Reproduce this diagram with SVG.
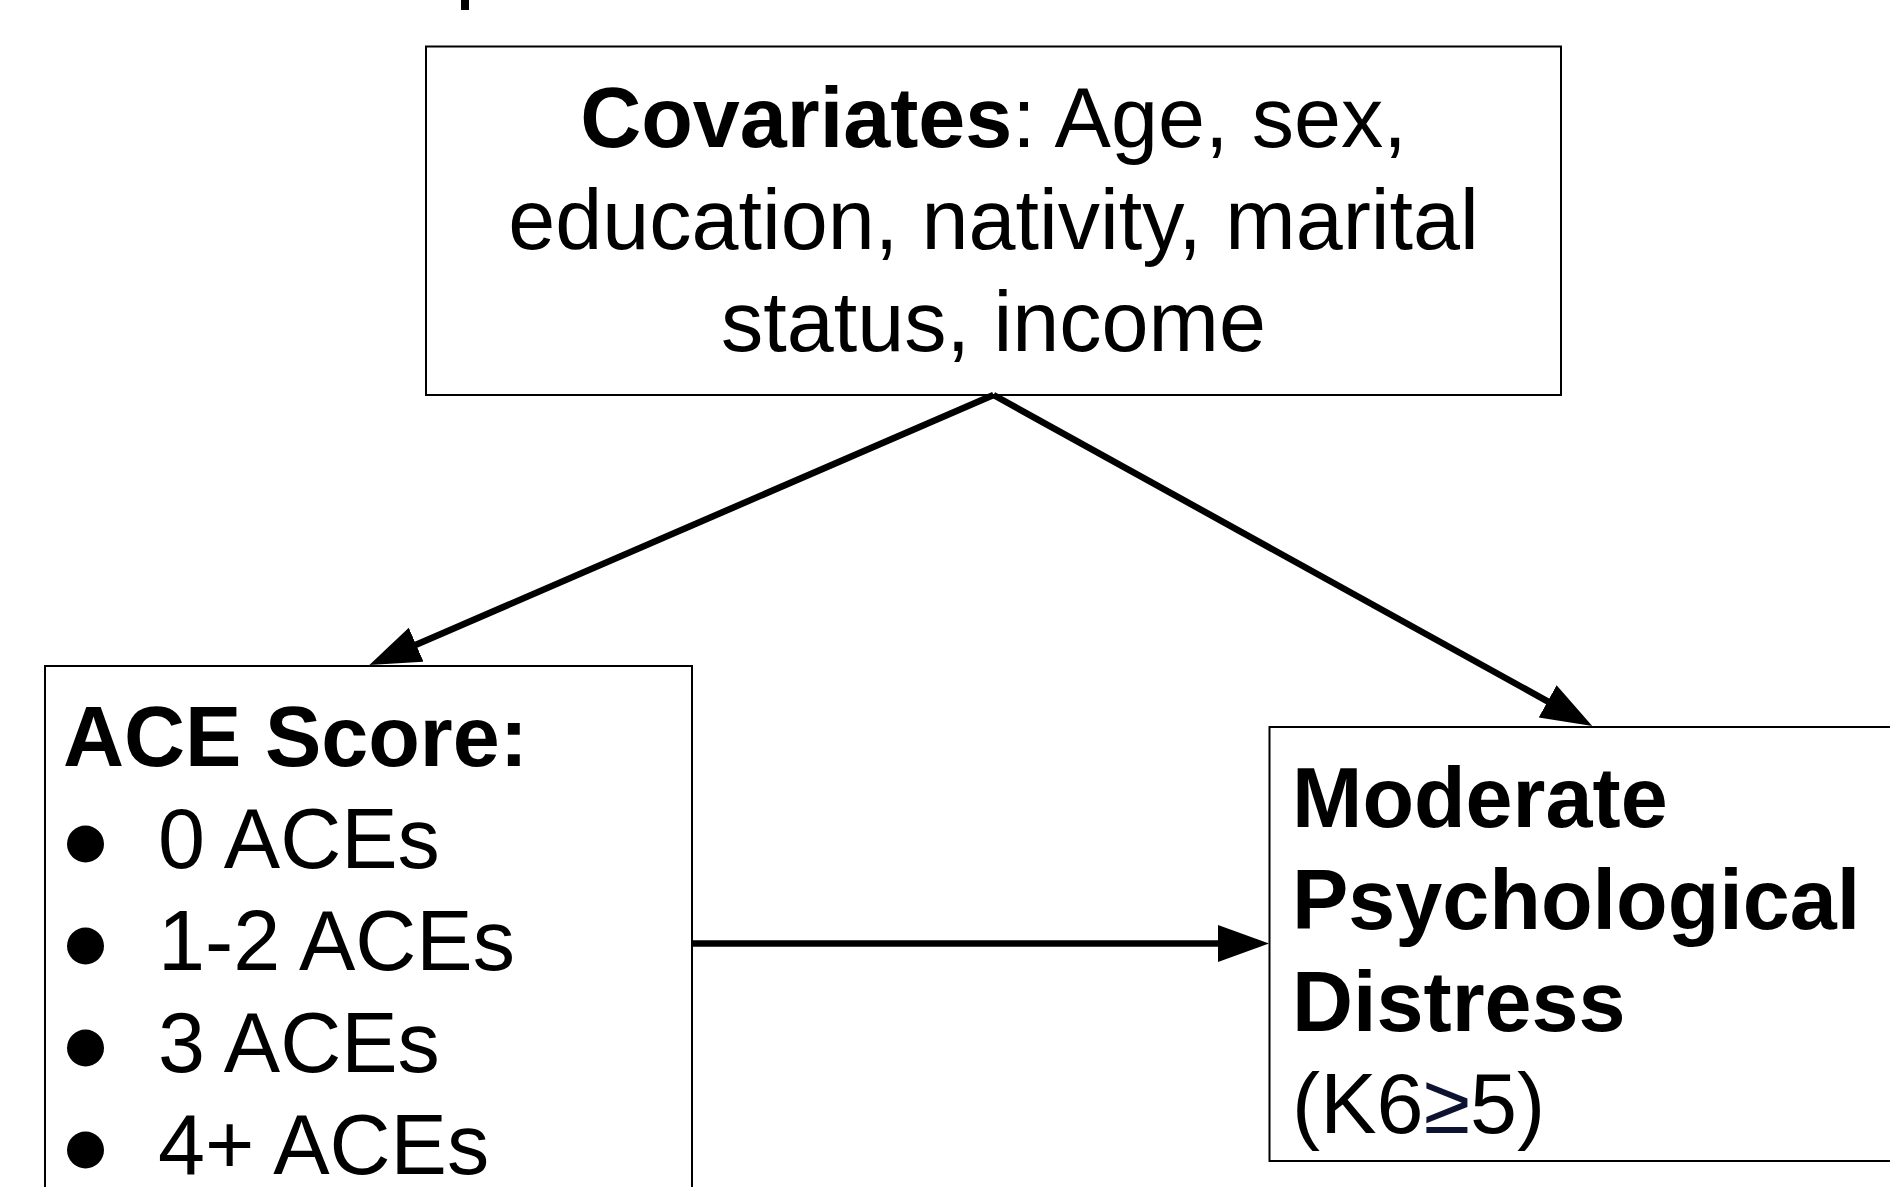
<svg xmlns="http://www.w3.org/2000/svg" width="1890" height="1187" viewBox="0 0 1890 1187">
<defs>
<style>
.box{fill:#ffffff;stroke:#000000;stroke-width:2}
.t{font-family:"Liberation Sans",Arial,sans-serif;font-size:84.5px;fill:#000000}
.b{font-weight:bold}
.edge{stroke:#000000;stroke-width:6.5;fill:none}
.dot{fill:#000000}
</style>
<marker id="ah" markerUnits="userSpaceOnUse" markerWidth="52" markerHeight="38" refX="2" refY="18.5" orient="auto">
<path d="M0,0 L51,18.5 L0,37 z" fill="#000000"/>
</marker>
</defs>
<rect width="1890" height="1187" fill="#ffffff"/>
<rect x="461" y="0" width="8" height="10" fill="#000000"/>
<g id="covariates">
<rect class="box" x="426" y="46.5" width="1135" height="348.5"/>
<text class="t" x="993.5" y="147" text-anchor="middle"><tspan class="b">Covariates</tspan>: Age, sex,</text>
<text class="t" x="993.5" y="249" text-anchor="middle">education, nativity, marital</text>
<text class="t" x="993.5" y="351" text-anchor="middle">status, income</text>
</g>
<g id="ace-score">
<rect class="box" x="45" y="666" width="647" height="540"/>
<text class="t b" x="63" y="766">ACE Score:</text>
<circle class="dot" cx="85.5" cy="844" r="18.5"/>
<text class="t" x="158" y="868">0 ACEs</text>
<circle class="dot" cx="85.5" cy="946" r="18.5"/>
<text class="t" x="158" y="970">1-2 ACEs</text>
<circle class="dot" cx="85.5" cy="1048" r="18.5"/>
<text class="t" x="158" y="1072">3 ACEs</text>
<circle class="dot" cx="85.5" cy="1150" r="18.5"/>
<text class="t" x="158" y="1174">4+ ACEs</text>
</g>
<g id="distress">
<rect class="box" x="1269.5" y="727" width="660" height="434"/>
<text class="t b" x="1292" y="827">Moderate</text>
<text class="t b" x="1292" y="929">Psychological</text>
<text class="t b" x="1292" y="1031">Distress</text>
<text class="t" x="1292" y="1133">(K6<tspan fill="#0c1230">≥</tspan>5)</text>
</g>
<g id="connectors">
<line class="edge" x1="993.5" y1="395" x2="414.3" y2="645.5" marker-end="url(#ah)"/>
<line class="edge" x1="993.5" y1="395" x2="1549.4" y2="702.3" marker-end="url(#ah)"/>
<line class="edge" x1="692" y1="943.5" x2="1220" y2="943.5" marker-end="url(#ah)"/>
</g>
</svg>
